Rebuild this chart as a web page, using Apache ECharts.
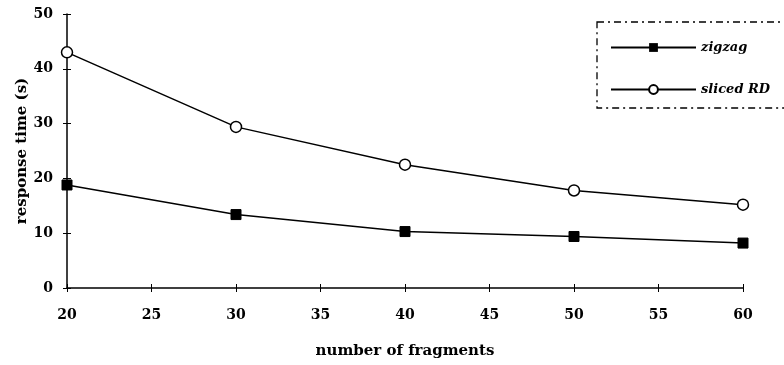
<!DOCTYPE html>
<html><head><meta charset="utf-8">
<script src="https://cdn.jsdelivr.net/npm/echarts@6/dist/echarts.min.js"></script>
<style>html,body{margin:0;padding:0;background:#fff}#c{width:784px;height:365px}</style>
</head><body><div id="c"></div>
<script>
const fragments = [20, 30, 40, 50, 60];
const zigzag = [18.8, 13.4, 10.3, 9.4, 8.2];
const slicedRD = [43.0, 29.4, 22.5, 17.8, 15.2];
const seriesNames = ['zigzag', 'sliced RD'];
const xTitle = 'number of fragments';
const yTitle = 'response time (s)';

const font = '"DejaVu Serif", "Liberation Serif", serif';
const chart = echarts.init(document.getElementById('c'));
const labelStyle = {fontFamily: font, fontWeight: 'bold', fontSize: 14, color: '#000'};
const titleStyle = {fontFamily: font, fontWeight: 'bold', fontSize: 15, color: '#000'};
chart.setOption({
  animation: false,
  backgroundColor: '#fff',
  grid: {left: 67, right: 41, top: 14, bottom: 77},
  legend: {
    orient: 'vertical', left: 597, top: 22,
    padding: [19, 50, 12, 13], itemGap: 29,
    itemWidth: 85, itemHeight: 11,
    borderColor: '#000', borderWidth: 1.3,
    borderType: [7, 4, 2, 4],
    textStyle: {fontFamily: font, fontStyle: 'italic', fontWeight: 'bold', fontSize: 13, color: '#000'},
    data: seriesNames
  },
  xAxis: [{
    type: 'value', min: 20, max: 60, interval: 5,
    name: xTitle, nameLocation: 'middle', nameGap: 56,
    nameTextStyle: titleStyle,
    axisLine: {lineStyle: {color: '#000', width: 1.5}},
    axisTick: {show: true, length: 4, lineStyle: {color: '#000'}},
    axisLabel: Object.assign({margin: 20}, labelStyle),
    splitLine: {show: false}
  }, {
    type: 'value', min: 20, max: 60, interval: 5, position: 'bottom',
    axisLine: {show: false},
    axisTick: {show: true, inside: true, length: 4, lineStyle: {color: '#000'}},
    axisLabel: {show: false},
    splitLine: {show: false}
  }],
  yAxis: [{
    type: 'value', min: 0, max: 50, interval: 10,
    name: yTitle, nameLocation: 'middle', nameGap: 37, nameMoveOverlap: false,
    nameTextStyle: titleStyle,
    axisLine: {show: true, lineStyle: {color: '#000', width: 1.5}},
    axisTick: {show: true, length: 4, lineStyle: {color: '#000'}},
    axisLabel: Object.assign({margin: 14}, labelStyle),
    splitLine: {show: false}
  }, {
    type: 'value', min: 0, max: 50, interval: 10, position: 'left',
    axisLine: {show: false},
    axisTick: {show: true, inside: true, length: 4, lineStyle: {color: '#000'}},
    axisLabel: {show: false},
    splitLine: {show: false}
  }],
  series: [
    {
      name: seriesNames[0], type: 'line',
      data: fragments.map((x, i) => [x, zigzag[i]]),
      symbol: 'rect', symbolSize: 10,
      itemStyle: {color: '#000', borderColor: '#000'},
      lineStyle: {color: '#000', width: 1.5}
    },
    {
      name: seriesNames[1], type: 'line',
      data: fragments.map((x, i) => [x, slicedRD[i]]),
      symbol: 'circle', symbolSize: 11,
      itemStyle: {color: '#fff', borderColor: '#000', borderWidth: 1.5},
      lineStyle: {color: '#000', width: 1.5}
    }
  ]
});
</script></body></html>
